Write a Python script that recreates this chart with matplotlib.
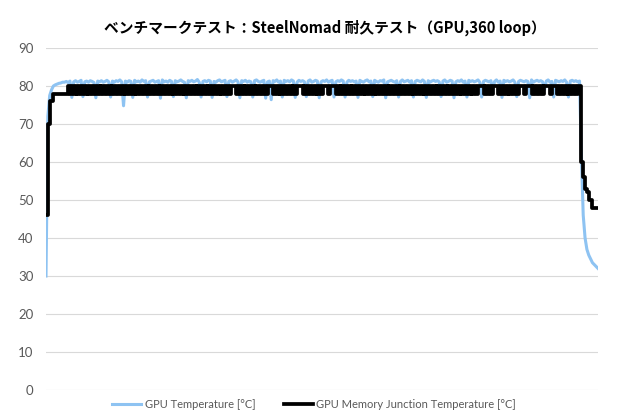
import matplotlib
matplotlib.use("Agg")
import matplotlib.pyplot as plt
import numpy as np

# GPU temperature samples (one value per log sample)
gpu_start = [30, 72, 77.5, 79, 80, 80.3, 80.5, 80.7, 80.8, 81.0]
gpu_main = [
    81.0, 81.2, 80.9, 81.3, 77.0, 81.1, 81.4, 81.0, 81.2, 81.5, 77.2, 81.1, 81.3, 81.0, 81.4, 81.2, 80.9, 76.9, 81.3, 81.1,
    81.4, 81.0, 81.2, 81.5, 81.1, 77.1, 81.3, 81.0, 81.4, 81.2, 81.6, 81.1, 74.8, 81.3, 81.0, 81.4, 81.2, 77.0, 81.5, 81.1,
    81.3, 81.0, 81.6, 81.2, 81.4, 77.1, 81.1, 81.3, 81.5, 81.0, 81.2, 81.4, 76.8, 81.6, 81.1, 81.3, 81.0, 81.5, 81.2, 77.2,
    81.4, 81.1, 81.3, 81.6, 81.2, 81.0, 76.9, 81.4, 81.2, 81.5, 81.1, 81.3, 81.7, 81.0, 77.1, 81.2, 81.4, 81.1, 81.5, 81.3,
    77.0, 81.2, 81.0, 81.4, 81.6, 81.1, 81.3, 81.5, 77.2, 81.2, 81.4, 81.0, 81.3, 81.6, 81.1, 76.9, 81.4, 81.2, 81.5, 81.0,
    81.3, 81.1, 77.1, 81.4, 81.6, 81.2, 81.0, 81.3, 81.5, 76.8, 81.1, 81.3, 76.4, 81.4, 81.2, 81.6, 81.0, 81.3, 77.1, 81.5,
    81.2, 81.4, 81.1, 81.6, 81.3, 77.0, 81.0, 81.5, 81.2, 81.4, 81.1, 77.2, 81.3, 81.6, 81.0, 81.2, 81.5, 81.3, 76.9, 81.1,
    81.4, 81.2, 81.6, 81.0, 81.3, 81.5, 77.1, 81.1, 81.4, 81.2, 81.6, 81.3, 77.1, 81.0, 81.5, 81.2, 81.4, 81.1, 81.3, 77.0,
    81.5, 81.2, 81.0, 81.4, 81.6, 81.1, 81.3, 77.2, 81.5, 81.2, 81.0, 81.4, 81.3, 81.6, 76.9, 81.1, 81.3, 81.5, 81.2, 81.0,
    81.4, 77.1, 81.2, 81.6, 81.1, 81.3, 81.5, 81.0, 81.4, 77.1, 81.2, 81.5, 81.3, 81.1, 81.6, 81.2, 77.0, 81.4, 81.0, 81.3,
    81.5, 81.2, 81.4, 81.1, 77.2, 81.3, 81.6, 81.0, 81.2, 81.5, 81.3, 76.9, 81.1, 81.4, 81.2, 81.6, 81.0, 81.3, 77.1, 81.5,
    81.2, 81.4, 81.1, 81.3, 81.6, 81.0, 77.1, 81.2, 81.5, 81.3, 81.1, 81.4, 79.0, 81.2, 81.6, 81.0, 81.3, 77.0, 81.5, 81.2,
    81.4, 81.1, 81.3, 81.6, 81.0, 77.2, 81.2, 81.5, 81.3, 81.1, 81.4, 81.2, 76.9, 81.6, 81.0, 81.3, 81.5, 81.2, 81.4, 81.1,
    79.0, 81.3, 81.6, 81.0, 81.2, 77.1, 81.5, 81.3, 81.1, 81.4, 81.2, 81.6, 81.0, 77.1, 81.3, 81.5, 81.2, 81.4, 81.1, 81.3,
]
gpu_cool = [62, 46, 40, 37, 35.5, 34.5, 33.5, 33, 32.5, 32]

# GPU memory junction temperature samples (sensor reads in 2 degree steps)
mem_start = [46, 70, 76, 76, 78, 78, 78, 78, 78, 78, 78, 78]
mem_main = [
    80, 78, 80, 78, 80, 78, 80, 78, 80, 78, 80, 78, 80, 78, 80, 78, 80, 78, 80, 78,
    80, 78, 80, 78, 80, 78, 80, 78, 80, 78, 80, 78, 80, 78, 80, 78, 80, 78, 80, 78,
    80, 78, 80, 78, 80, 78, 80, 78, 80, 78, 80, 78, 80, 78, 80, 78, 80, 78, 80, 78,
    80, 78, 80, 78, 80, 78, 80, 78, 80, 78, 80, 78, 80, 78, 80, 78, 80, 78, 80, 78,
    80, 78, 80, 78, 80, 78, 80, 78, 80, 80, 80, 78, 80, 78, 80, 78, 80, 78, 80, 78,
    80, 78, 80, 78, 80, 78, 80, 78, 80, 80, 80, 78, 80, 78, 80, 78, 80, 78, 80, 78,
    80, 78, 80, 78, 80, 80, 80, 78, 80, 78, 80, 78, 80, 78, 80, 78, 80, 78, 80, 80,
    80, 78, 80, 80, 80, 78, 80, 78, 80, 78, 80, 78, 80, 78, 80, 78, 80, 78, 80, 78,
    80, 78, 80, 78, 80, 78, 80, 78, 80, 78, 80, 78, 80, 78, 80, 78, 80, 78, 80, 78,
    80, 78, 80, 78, 80, 78, 80, 78, 80, 78, 80, 78, 80, 78, 80, 78, 80, 78, 80, 78,
    80, 78, 80, 78, 80, 78, 80, 78, 80, 78, 80, 78, 80, 78, 80, 78, 80, 78, 80, 78,
    80, 78, 80, 80, 80, 78, 80, 78, 80, 78, 80, 80, 80, 78, 80, 78, 80, 78, 80, 78,
    80, 78, 80, 78, 80, 80, 80, 78, 80, 80, 80, 78, 80, 78, 80, 78, 80, 78, 80, 80,
    80, 78, 80, 80, 80, 78, 80, 78, 80, 78, 80, 78, 80, 78, 80, 78, 80, 80,
]
mem_cool = [60, 56, 53, 52, 50, 50, 48, 48, 48, 48]

gpu_temp = gpu_start + gpu_main + gpu_cool
mem_temp = mem_start + mem_main + mem_cool
assert len(gpu_temp) == len(mem_temp), (len(gpu_temp), len(mem_temp))
samples = np.arange(len(gpu_temp))

title = "ベンチマークテスト：SteelNomad 耐久テスト（GPU,360 loop）"
labels = ["GPU Temperature [°C]", "GPU Memory Junction Temperature [°C]"]
yticks = [0, 10, 20, 30, 40, 50, 60, 70, 80, 90]

fig = plt.figure(figsize=(6.2, 4.2), dpi=100)
ax = fig.add_axes([0.0742, 0.0714, 0.8903, 0.8143])

ax.plot(samples, gpu_temp, color="#8ec3f2", linewidth=2.2, label=labels[0], zorder=2)
ax.plot(samples, mem_temp, color="black", linewidth=2.7, drawstyle="steps-post",
        label=labels[1], zorder=3)

ax.set_xlim(0, len(samples) - 1)
ax.set_ylim(0, 90)
ax.set_yticks(yticks)
ax.set_xticks([])
ax.grid(axis="y", color="#d9d9d9", linewidth=0.8, zorder=0)
ax.set_axisbelow(True)
for s in ax.spines.values():
    s.set_visible(False)
ax.tick_params(axis="y", length=0, pad=9, labelsize=9.5, labelcolor="#595959")
for t in ax.get_yticklabels():
    t.set_family("Lato")

fig.text(0.524, 0.933, title, ha="center", va="center", fontsize=10.6, fontweight="bold",
         family=["Noto Sans CJK JP", "DejaVu Sans"])

fig.legend(loc="center", bbox_to_anchor=(0.507, 0.038), ncol=2, frameon=False,
           handlelength=2.6, handletextpad=0.3, columnspacing=2.6,
           prop={"family": "Lato", "size": 8}, labelcolor="#595959")

fig.savefig("out.png", dpi=100)
